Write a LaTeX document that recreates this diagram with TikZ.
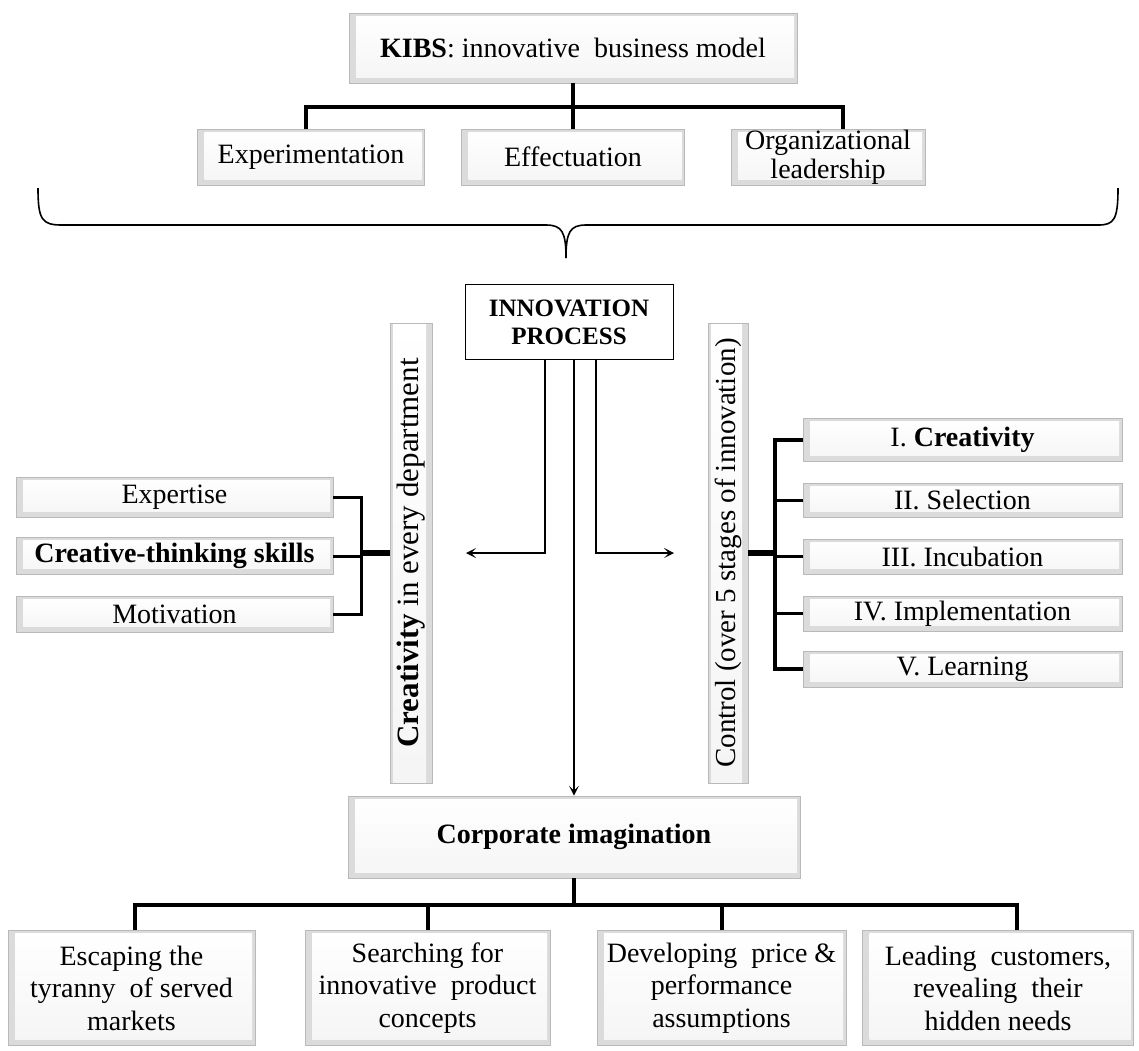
\documentclass[tikz,border=0pt]{standalone}
\usepackage{fontspec}
\setmainfont{Liberation Serif}
\usetikzlibrary{arrows.meta,calc}
\begin{document}
\begin{tikzpicture}[x=1pt,y=-1pt,
  txt/.style={font=\fontsize{28}{31}\selectfont, align=center, inner sep=0pt},
  box/.style={txt, draw=gray!55, line width=0.9pt, fill=gray!28,
    path picture={\fill[top color=white, bottom color=gray!8]
      ($(path picture bounding box.north west)+(7pt,-3pt)$) rectangle
      ($(path picture bounding box.south east)+(-3pt,6pt)$);}},
  plainbox/.style={draw=black, line width=0.9pt, fill=white, align=center, inner sep=0pt,
    font=\bfseries\fontsize{25}{28}\selectfont},
  tree/.style={line width=4pt},
  twig/.style={line width=3pt},
  stub/.style={line width=6pt},
  flow/.style={line width=1.3pt, -{Stealth[length=10pt,width=10pt,inset=5pt]}},
]
\useasboundingbox (0,0) rectangle (1139,1050);
\fill[white] (0,0) rectangle (1139,1050);

% --- business model level ---
\node[box, minimum width=448pt, minimum height=70pt] (kibs) at (573,48)
  {\textbf{KIBS}: innovative\ \ business model};
\node[box, minimum width=227pt, minimum height=56pt] (exp) at (311,157) {Experimentation};
\node[box, minimum width=223pt, minimum height=56pt] (eff) at (573,157) {Effectuation};
\node[box, minimum width=194pt, minimum height=56pt, font=\fontsize{28}{29}\selectfont] (org) at (828,157)
  {Organizational\\leadership};

\coordinate (tb) at (573,107);
\draw[tree] (kibs.south) -- (tb);
\draw[tree] ([xshift=-5pt]exp.north) |- (tb) -| ([xshift=15pt]org.north);
\draw[tree] (tb) -- (eff.north);

% curly brace gathering the business model
\draw[line width=1.6pt]
  (38,188) .. controls (38,220) and (42,225) .. (62,225) -- (546,225)
  .. controls (562,225) and (566,232) .. (566,258);
\draw[line width=1.6pt]
  (566,258) .. controls (566,232) and (570,225) .. (586,225) -- (1098,225)
  .. controls (1114,225) and (1118,220) .. (1118,188);

% --- innovation process ---
\node[plainbox, minimum width=208pt, minimum height=75pt] (ip) at (569,322) {INNOVATION\\PROCESS};

\node[box, rotate=90, minimum width=460pt, minimum height=42pt, font=\fontsize{31}{33}\selectfont] (cv) at (411,553)
  {\textbf{Creativity} in every department};
\node[box, rotate=90, minimum width=460pt, minimum height=40pt, font=\fontsize{29}{32}\selectfont] (ctl) at (728,553)
  {Control (over 5 stages of innovation)};

\coordinate (la) at (466,553);
\coordinate (ra) at (674,553);
\draw[flow] ([xshift=-24pt]ip.south) |- (la);
\draw[flow] ([xshift=27pt]ip.south) |- (ra);

% creativity components
\node[box, minimum width=317pt, minimum height=40pt] (ex) at (174.5,497) {Expertise};
\node[box, minimum width=317pt, minimum height=37pt] (ct) at (174.5,556) {\textbf{Creative-thinking skills}};
\node[box, minimum width=317pt, minimum height=36pt] (mo) at (174.5,614) {Motivation};
\coordinate (lj) at (361,553);
\draw[twig] (ex.east) -| (lj) |- (mo.east);
\draw[twig] (ct.east) -- (ct.east -| lj);
\draw[stub] (lj) -- (cv);

% five stages of innovation
\node[box, minimum width=319pt, minimum height=43pt] (r1) at (962.5,440) {I. \textbf{Creativity}};
\node[box, minimum width=319pt, minimum height=34pt] (r2) at (962.5,500) {II. Selection};
\node[box, minimum width=319pt, minimum height=35pt] (r3) at (962.5,556.5) {III. Incubation};
\node[box, minimum width=319pt, minimum height=35pt] (r4) at (962.5,613.5) {IV. Implementation};
\node[box, minimum width=319pt, minimum height=36pt] (r5) at (962.5,669) {V. Learning};
\coordinate (rj) at (775,553);
\draw[tree] (r1.west) -| (rj) |- (r5.west);
\draw[twig] (r2.west) -- (r2.west -| rj);
\draw[twig] (r3.west) -- (r3.west -| rj);
\draw[twig] (r4.west) -- (r4.west -| rj);
\draw[stub] (rj) -- (ctl);

% --- corporate imagination ---
\node[box, minimum width=452pt, minimum height=82pt] (ci) at (574,837) {\textbf{Corporate imagination}};
\draw[flow] (ip.south -| ci.north) -- (ci.north);

\tikzset{tall/.style={box, minimum height=115pt, font=\fontsize{28}{32.5}\selectfont}}
\node[tall, minimum width=247pt] (b1) at (131.5,988) {Escaping the\\tyranny\ \ of served\\markets};
\node[tall, minimum width=245pt] (b2) at (427.5,988) {Searching for\\innovative\ \ product\\concepts};
\node[tall, minimum width=249pt] (b3) at (721.5,988) {Developing\ \ price \&\\performance\\assumptions};
\node[tall, minimum width=271pt] (b4) at (998,988) {Leading\ \ customers,\\revealing\ \ their\\hidden needs};

\coordinate (bb) at (574,905);
\draw[tree] (ci.south) -- (bb);
\draw[tree] ([xshift=3pt]b1.north) |- (bb) -| ([xshift=19pt]b4.north);
\draw[tree] (b2.north) -- (b2.north |- bb);
\draw[tree] (b3.north) -- (b3.north |- bb);
\end{tikzpicture}
\end{document}
